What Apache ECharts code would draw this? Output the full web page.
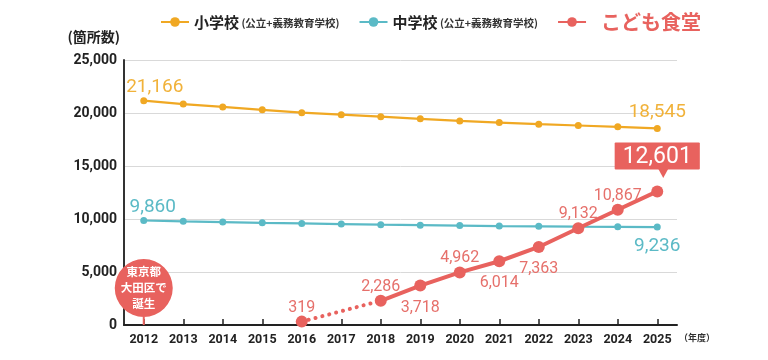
<!DOCTYPE html>
<html><head><meta charset="utf-8">
<script src="https://cdn.jsdelivr.net/npm/echarts@6/dist/echarts.min.js"></script>
<style>html,body{margin:0;padding:0;background:#fff}#c{width:768px;height:360px}</style>
</head><body><div id="c"></div>
<script>
const years = ['2012','2013','2014','2015','2016','2017','2018','2019','2020','2021','2022','2023','2024','2025'];
const elementary = [21166, 20840, 20570, 20300, 20030, 19840, 19650, 19450, 19250, 19100, 18950, 18820, 18700, 18545];
const juniorHigh = [9860, 9780, 9710, 9640, 9580, 9520, 9460, 9420, 9380, 9330, 9310, 9280, 9260, 9236];
const kodomo = [null, null, null, null, 319, null, 2286, 3718, 4962, 6014, 7363, 9132, 10867, 12601];
const yTicks = [0, 5000, 10000, 15000, 20000, 25000];
const originYear = '2012';
const originText = '東京都\n大田区で\n誕生';

const ORANGE = '#F0A823', BLUE = '#5BBAC6', RED = '#E8625E';
const FONT = 'Roboto, "Noto Sans CJK JP", sans-serif';
const JP = '"Noto Sans CJK JP", sans-serif';
const fmt = v => v.toLocaleString('en-US');

// label placement (style only)
const redPos = {4:'top',6:'top',7:'bottom',8:'top',9:'bottom',10:'bottom',11:'top',12:'top'};
const last = years.length - 1;

const redData = kodomo.map((v, i) => {
  if (v == null) return v;
  const item = {value: v};
  if (i === last) {
    item.label = {show: true, position: 'top', distance: 16, formatter: p => fmt(p.value),
      backgroundColor: RED, color: '#fff', fontSize: 23, padding: [3, 8, 1, 8], borderRadius: 1, fontFamily: FONT};
  } else {
    const pos = redPos[i] || 'top';
    item.label = {show: true, position: pos, distance: pos === 'top' ? 0 : 8};
  }
  return item;
});
const dottedData = kodomo.map((v, i) => (i === 4 || i === 6) ? v : null);

const elemData = elementary.map((v, i) => {
  if (i === 0) return {value: v, label: {show: true, position: 'top', offset: [11, 4], distance: 4}};
  if (i === last) return {value: v, label: {show: true, position: 'top', offset: [0, 3], distance: 6}};
  return v;
});
const jhData = juniorHigh.map((v, i) => {
  if (i === 0) return {value: v, label: {show: true, position: 'top', offset: [9, 4], distance: 4}};
  if (i === last) return {value: v, label: {show: true, position: 'bottom', distance: 6}};
  return v;
});

const chart = echarts.init(document.getElementById('c'), null, {renderer: 'canvas'});
chart.setOption({
  animation: false,
  textStyle: {fontFamily: FONT},
  grid: {left: 124, right: 91, top: 60, bottom: 35},
  legend: {
    left: 155, top: 7, itemGap: 19, itemWidth: 28, itemHeight: 12,
    data: [
      {name: '小学校'},
      {name: '中学校'},
      {name: 'こども食堂'}
    ],
    formatter: n => n === 'こども食堂' ? '{r|' + n + '}' : '{b|' + n + '}{s| (公立+義務教育学校)}',
    textStyle: {
      rich: {
        b: {fontSize: 15, fontWeight: 'bold', color: '#222', fontFamily: JP},
        s: {fontSize: 10.5, fontWeight: 'bold', color: '#333', fontFamily: JP, padding: [2, 0, 0, 0]},
        r: {fontSize: 20, fontWeight: 'bold', color: RED, fontFamily: JP, padding: [0, 0, 0, 10]}
      }
    }
  },
  xAxis: {
    type: 'category', data: years, boundaryGap: true,
    name: '（年度）', nameLocation: 'end', nameGap: 2,
    nameTextStyle: {fontSize: 9, color: '#333', fontWeight: 'bold', verticalAlign: 'top', padding: [8, 0, 0, 0], fontFamily: JP},
    axisLine: {lineStyle: {color: '#222', width: 2}},
    axisTick: {show: true, inside: true, alignWithLabel: true, length: 6, lineStyle: {color: '#222', width: 1.5}},
    axisLabel: {color: '#222', fontSize: 12.5, fontWeight: 'bold', margin: 9, fontFamily: FONT}
  },
  yAxis: {
    type: 'value', min: yTicks[0], max: yTicks[yTicks.length - 1], interval: yTicks[1] - yTicks[0],
    name: '(箇所数)', nameLocation: 'end', nameGap: 16,
    nameTextStyle: {align: 'right', fontSize: 14, fontWeight: 'bold', color: '#222', padding: [0, 4, 0, 0], fontFamily: JP},
    axisLine: {show: true, lineStyle: {color: '#333', width: 2}},
    axisTick: {show: false},
    splitLine: {lineStyle: {color: '#d9d9d9', width: 1}},
    axisLabel: {color: '#222', fontSize: 14, fontWeight: 'bold', margin: 7, formatter: v => fmt(v), fontFamily: FONT}
  },
  series: [
    {
      name: '小学校', type: 'line', data: elemData, color: ORANGE,
      symbol: 'circle', symbolSize: 7, lineStyle: {width: 2.2},
      label: {show: false, color: '#F1B23A', fontSize: 19, fontFamily: FONT, formatter: p => fmt(p.value)}
    },
    {
      name: '中学校', type: 'line', data: jhData, color: BLUE,
      symbol: 'circle', symbolSize: 7, lineStyle: {width: 2.2},
      label: {show: false, color: '#5BBAC6', fontSize: 19, fontFamily: FONT, formatter: p => fmt(p.value)}
    },
    {
      name: 'こども食堂-dotted', type: 'line', data: dottedData, connectNulls: true, color: RED,
      symbol: 'none', lineStyle: {width: 4, type: [0.1, 7], cap: 'round'}, z: 3
    },
    {
      name: 'こども食堂', type: 'line', data: redData, connectNulls: false, color: RED,
      symbol: 'circle', symbolSize: 12, lineStyle: {width: 4}, z: 4,
      label: {show: false, color: '#E6706B', fontSize: 16, fontFamily: FONT, formatter: p => fmt(p.value)},
      markPoint: {
        silent: true,
        data: [
          {
            coord: [originYear, 0],
            symbol: 'path://M29,0 A29,29 0 1,1 28.99,0 Z M28,56 L30,56 L30,66 L28,66 Z',
            symbolSize: [58, 66], symbolKeepAspect: false, symbolOffset: [0, -33],
            itemStyle: {color: RED},
            label: {show: true, formatter: originText, color: '#fff', fontSize: 11.5, lineHeight: 16, position: 'inside', offset: [0, -4], fontWeight: 'bold', fontFamily: JP}
          },
          {
            coord: [years[last], kodomo[last]],
            symbol: 'triangle', symbolRotate: 180, symbolSize: [12, 11], symbolOffset: [6, -19],
            itemStyle: {color: RED}, label: {show: false}
          }
        ]
      }
    }
  ]
});
</script></body></html>
